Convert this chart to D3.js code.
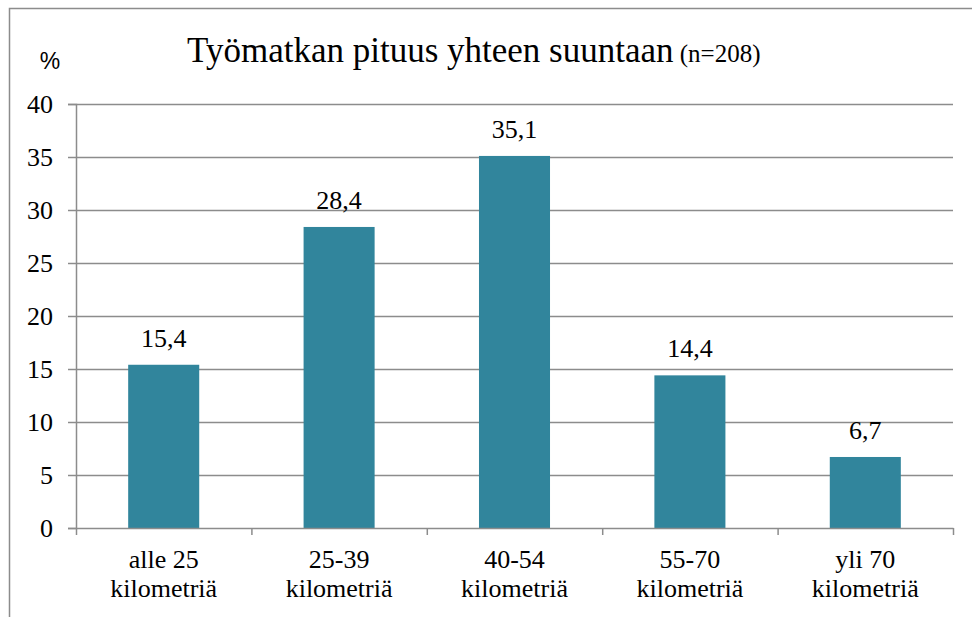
<!DOCTYPE html>
<html><head><meta charset="utf-8"><script src="https://cdn.jsdelivr.net/npm/d3@7"></script></head>
<body style="margin:0">
<svg id="chart" width="972" height="617" font-family="Liberation Serif"></svg>
<script>
const categories = [["alle 25", "kilometriä"], ["25-39", "kilometriä"], ["40-54", "kilometriä"], ["55-70", "kilometriä"], ["yli 70", "kilometriä"]];
const values = [15.4, 28.4, 35.1, 14.4, 6.7];
const valueLabels = ["15,4", "28,4", "35,1", "14,4", "6,7"];
const yTicks = [0, 5, 10, 15, 20, 25, 30, 35, 40];
const titleMain = "Työmatkan pituus yhteen suuntaan";
const titleSub = "(n=208)";
const yUnit = "%";

const fontSerif = "Liberation Serif";
const svg = d3.select("#chart");
const pLeft = 76, pRight = 953, pTop = 104, pBottom = 528;
const gridColor = "#8c8c8c";
const barColor = "#31859c";

svg.append("path")
  .attr("d", "M9.5,620 L9.5,8.5 L980,8.5")
  .attr("fill", "none").attr("stroke", gridColor).attr("stroke-width", 1.5);

const idx = d3.range(categories.length);
const x = d3.scaleBand().domain(idx).range([pLeft, pRight]).paddingInner(0.595).paddingOuter(0.2975);
const y = d3.scaleLinear().domain([0, 40]).range([pBottom, pTop]);
const xb = d3.scaleLinear().domain([0, categories.length]).range([pLeft, pRight]);

const gg = svg.append("g").attr("transform", `translate(${pLeft},0)`)
  .call(d3.axisRight(y).tickValues(yTicks.filter(d => d > 0)).tickSize(pRight - pLeft).tickFormat(""));
gg.select(".domain").remove();
gg.selectAll("line").attr("stroke", gridColor).attr("stroke-width", 1.5);

const ya = svg.append("g").attr("transform", `translate(${pLeft},0)`)
  .call(d3.axisLeft(y).tickValues(yTicks).tickSize(8).tickPadding(15).tickFormat(d => String(d)));
ya.attr("font-family", fontSerif).attr("font-size", 26);
ya.select(".domain").attr("stroke", gridColor).attr("stroke-width", 1.5);
ya.selectAll("line").attr("stroke", gridColor).attr("stroke-width", 1.5);
ya.selectAll("text").style("font-family", `'${fontSerif}'`).style("font-size", "26px").attr("fill", "#000");

svg.append("g").selectAll("rect").data(idx).join("rect")
  .attr("x", i => x(i))
  .attr("width", x.bandwidth())
  .attr("y", i => y(values[i]))
  .attr("height", i => y(0) - y(values[i]))
  .attr("fill", barColor);

const xa = svg.append("g").attr("transform", `translate(0,${pBottom})`)
  .call(d3.axisBottom(xb).tickValues(d3.range(categories.length + 1)).tickSize(7).tickSizeOuter(0).tickFormat(""));
xa.select(".domain").attr("stroke", gridColor).attr("stroke-width", 1.5);
xa.selectAll("line").attr("stroke", gridColor).attr("stroke-width", 1.5);

const xl = svg.append("g").selectAll("text").data(idx).join("text")
  .attr("x", i => x(i) + x.bandwidth() / 2)
  .attr("y", 568)
  .attr("text-anchor", "middle")
  .style("font-family", `'${fontSerif}'`).style("font-size", "26px");
xl.append("tspan").attr("x", i => x(i) + x.bandwidth() / 2).text(i => categories[i][0]);
xl.append("tspan").attr("x", i => x(i) + x.bandwidth() / 2).attr("dy", 28.5).text(i => categories[i][1]);

svg.append("g").selectAll("text").data(idx).join("text")
  .attr("x", i => x(i) + x.bandwidth() / 2)
  .attr("y", i => y(values[i]) - 18)
  .attr("text-anchor", "middle")
  .style("font-family", `'${fontSerif}'`).style("font-size", "26px")
  .text(i => valueLabels[i]);

const t = svg.append("text").attr("x", 187).attr("y", 62)
  .style("font-family", `'${fontSerif}'`).style("font-size", "35px");
t.append("tspan").text(titleMain);
t.append("tspan").style("font-size", "25px").text(" " + titleSub);

svg.append("text").attr("x", 50).attr("y", 69).attr("text-anchor", "middle")
  .style("font-family", "'Liberation Sans'").style("font-size", "23px")
  .text(yUnit);
</script>
</body></html>
